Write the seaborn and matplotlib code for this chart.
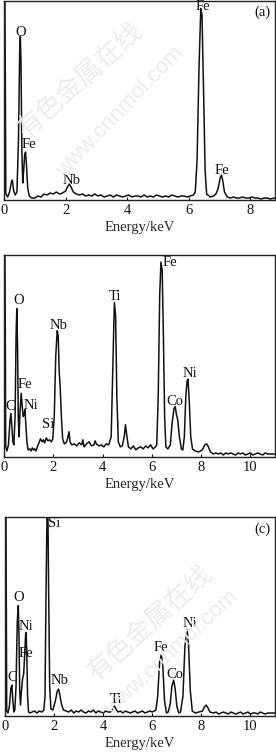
import matplotlib
matplotlib.use("Agg")
import matplotlib.pyplot as plt
import seaborn as sns
import pandas as pd

# ---------------- data ----------------
# Panel (a)
energy_a = [0.00, 0.03, 0.06, 0.12, 0.18, 0.24, 0.27, 0.31, 0.36, 0.42, 0.47, 0.51, 0.53, 0.55,
            0.58, 0.61, 0.64, 0.67, 0.70, 0.73, 0.77, 0.82, 0.90, 1.00, 1.10, 1.20, 1.30, 1.40,
            1.50, 1.60, 1.70, 1.80, 1.90, 2.00, 2.06, 2.12, 2.18, 2.25, 2.35, 2.45, 2.55, 2.65,
            2.75, 2.85, 2.95, 3.05, 3.15, 3.25, 3.35, 3.45, 3.55, 3.65, 3.75, 3.85, 3.95, 4.05,
            4.15, 4.25, 4.35, 4.45, 4.55, 4.65, 4.75, 4.85, 4.95, 5.05, 5.15, 5.25, 5.35, 5.45,
            5.55, 5.65, 5.75, 5.85, 5.95, 6.05, 6.15, 6.21, 6.27, 6.33, 6.39, 6.43, 6.48, 6.53,
            6.58, 6.70, 6.80, 6.88, 6.95, 7.02, 7.06, 7.10, 7.16, 7.25, 7.35, 7.45, 7.55, 7.65,
            7.75, 7.85, 7.95, 8.05, 8.15, 8.25, 8.35, 8.45, 8.55, 8.65, 8.80]
counts_a = [200, 200, 6, 3, 8, 18, 20, 10, 5, 8, 60, 150, 164, 140,
            50, 17, 30, 45, 48, 35, 12, 4, 2, 2, 4, 3, 6, 5,
            7, 6, 8, 6, 7, 9, 13, 16, 13, 8, 6, 5, 6, 4,
            5, 4, 6, 4, 5, 3, 4, 5, 3, 5, 4, 3, 4, 5,
            3, 4, 4, 3, 5, 3, 4, 3, 5, 4, 3, 4, 3, 5,
            4, 3, 4, 4, 3, 4, 5, 8, 40, 130, 192, 185, 110, 30,
            6, 3, 4, 6, 11, 22, 25, 20, 8, 3, 2, 3, 2, 2,
            3, 2, 2, 3, 2, 2, 1, 2, 2, 1, 2]

# Panel (b)
energy_b = [0.00, 0.04, 0.07, 0.12, 0.18, 0.24, 0.28, 0.32, 0.36, 0.40, 0.45, 0.49, 0.52, 0.55,
            0.58, 0.61, 0.65, 0.70, 0.74, 0.78, 0.82, 0.85, 0.88, 0.93, 0.98, 1.05, 1.10, 1.15,
            1.20, 1.25, 1.30, 1.35, 1.42, 1.48, 1.55, 1.60, 1.65, 1.72, 1.78, 1.85, 1.92, 1.98,
            2.04, 2.10, 2.16, 2.20, 2.24, 2.28, 2.33, 2.38, 2.45, 2.52, 2.58, 2.64, 2.68, 2.75,
            2.85, 2.95, 3.05, 3.15, 3.20, 3.25, 3.35, 3.45, 3.55, 3.65, 3.70, 3.75, 3.85, 3.95,
            4.05, 4.15, 4.25, 4.35, 4.42, 4.48, 4.53, 4.58, 4.64, 4.72, 4.80, 4.88, 4.93, 4.98,
            5.05, 5.15, 5.25, 5.35, 5.45, 5.55, 5.65, 5.75, 5.85, 5.95, 6.05, 6.15, 6.20, 6.26,
            6.32, 6.37, 6.42, 6.47, 6.52, 6.57, 6.65, 6.75, 6.83, 6.90, 6.95, 7.00, 7.05, 7.12,
            7.20, 7.26, 7.32, 7.38, 7.43, 7.47, 7.52, 7.58, 7.65, 7.75, 7.90, 8.05, 8.15, 8.22,
            8.28, 8.38, 8.50, 8.60, 8.70, 8.80, 8.90, 9.00, 9.10, 9.20, 9.30, 9.40, 9.50, 9.60,
            9.70, 9.80, 9.90, 10.00, 10.10, 10.20, 10.30, 10.40, 10.50, 10.60, 10.70, 10.80, 11.00]
counts_b = [200, 200, 10, 6, 12, 35, 43, 30, 15, 12, 40, 120, 147, 110,
            40, 20, 45, 63, 50, 40, 42, 47, 35, 15, 7, 8, 6, 9,
            7, 8, 6, 10, 14, 18, 15, 17, 14, 19, 16, 17, 15, 18,
            40, 100, 125, 120, 85, 70, 40, 18, 13, 14, 18, 25, 15, 12,
            13, 11, 14, 12, 17, 10, 13, 15, 11, 12, 16, 13, 11, 12,
            10, 13, 12, 20, 90, 153, 140, 60, 15, 10, 11, 20, 32, 22,
            10, 8, 11, 7, 9, 10, 8, 11, 9, 12, 8, 10, 12, 60,
            160, 193, 185, 120, 40, 10, 8, 12, 35, 48, 50, 42, 37, 20,
            8, 7, 20, 60, 75, 77, 55, 20, 8, 6, 5, 7, 12, 13,
            11, 5, 3, 4, 3, 4, 2, 4, 3, 4, 3, 2, 4, 3,
            4, 2, 3, 4, 2, 3, 4, 3, 2, 4, 3, 3, 3]

# Panel (c)
energy_c = [0.00, 0.04, 0.07, 0.12, 0.18, 0.24, 0.28, 0.32, 0.36, 0.40, 0.45, 0.50, 0.54, 0.57,
            0.60, 0.63, 0.67, 0.72, 0.76, 0.80, 0.84, 0.86, 0.89, 0.92, 0.96, 1.02, 1.10, 1.20,
            1.30, 1.40, 1.50, 1.58, 1.63, 1.67, 1.71, 1.75, 1.78, 1.82, 1.87, 1.95, 2.05, 2.13,
            2.18, 2.23, 2.30, 2.38, 2.50, 2.60, 2.70, 2.80, 2.90, 3.00, 3.10, 3.20, 3.30, 3.40,
            3.50, 3.60, 3.70, 3.80, 3.90, 4.00, 4.10, 4.20, 4.30, 4.40, 4.46, 4.52, 4.60, 4.70,
            4.80, 4.90, 5.00, 5.10, 5.20, 5.30, 5.40, 5.50, 5.60, 5.70, 5.80, 5.90, 6.00, 6.08,
            6.15, 6.22, 6.30, 6.37, 6.43, 6.50, 6.58, 6.65, 6.73, 6.80, 6.87, 6.93, 7.00, 7.08,
            7.15, 7.25, 7.33, 7.42, 7.48, 7.55, 7.63, 7.75, 7.90, 8.05, 8.12, 8.20, 8.27, 8.35,
            8.50, 8.60, 8.70, 8.80, 8.90, 9.00, 9.10, 9.20, 9.30, 9.40, 9.50, 9.60, 9.70, 9.80,
            9.90, 10.00, 10.10, 10.20, 10.30, 10.40, 10.50, 10.60, 10.70, 10.80, 11.00]
counts_c = [200, 200, 5, 3, 10, 28, 31, 15, 4, 6, 30, 95, 111, 80,
            25, 11, 25, 38, 42, 60, 82, 84, 60, 20, 4, 3, 4, 5,
            3, 5, 4, 6, 20, 120, 200, 200, 120, 30, 7, 6, 15, 25,
            27, 22, 12, 6, 5, 4, 6, 3, 5, 4, 6, 4, 3, 5,
            4, 6, 3, 5, 4, 3, 5, 4, 4, 7, 10, 7, 4, 5,
            3, 5, 4, 3, 4, 5, 3, 4, 5, 3, 4, 5, 4, 5,
            6, 20, 55, 62, 50, 15, 3, 4, 12, 30, 36, 28, 10, 3,
            4, 20, 70, 87, 70, 25, 5, 3, 4, 5, 9, 11, 8, 4,
            3, 4, 2, 3, 4, 3, 2, 4, 3, 2, 3, 4, 2, 3,
            4, 2, 3, 3, 2, 4, 3, 2, 3, 3, 3]

# Peak labels: (text, energy, count)
labels_a = [("O", 0.53, 168), ("Fe", 0.80, 56), ("Nb", 2.18, 20),
            ("Fe", 6.45, 194), ("Fe", 7.07, 30)]
labels_b = [("C", 0.24, 50), ("O", 0.58, 155), ("Fe", 0.85, 72), ("Ni", 1.10, 51),
            ("Si", 1.80, 32), ("Nb", 2.20, 130), ("Ti", 4.50, 159), ("Fe", 6.73, 193),
            ("Co", 6.94, 55), ("Ni", 7.55, 83)]
labels_c = [("C", 0.28, 39), ("O", 0.54, 119), ("Ni", 0.85, 90), ("Fe", 0.85, 63),
            ("Si", 2.00, 193), ("Nb", 2.24, 36), ("Ti", 4.50, 17), ("Fe", 6.37, 69),
            ("Co", 6.94, 42), ("Ni", 7.52, 93)]

panel_tags = ["(a)", "", "(c)"]
xmax = [8.8, 11.0, 11.0]
xticks = [[0, 2, 4, 6, 8], [0, 2, 4, 6, 8, 10], [0, 2, 4, 6, 8, 10]]
xlabel = "Energy/keV"

# ---------------- drawing ----------------
sns.set_theme(style="ticks")
plt.rcParams["font.family"] = ["Liberation Serif", "DejaVu Serif"]
plt.rcParams["axes.linewidth"] = 1.0

W, H = 276, 753
FS = 10.5
fig = plt.figure(figsize=(W / 100, H / 100), dpi=100)

# axes boxes in pixel coordinates (left, top, right, bottom)
boxes = [(4, 0.5, 275, 200), (4, 255, 275, 457), (5, 517, 275, 716)]
axes = []
for (l, t, r, b) in boxes:
    ax = fig.add_axes([l / W, (H - b) / H, (r - l) / W, (b - t) / H])
    axes.append(ax)

datasets = [(energy_a, counts_a, labels_a), (energy_b, counts_b, labels_b),
            (energy_c, counts_c, labels_c)]

# faint watermark (as in the reference)
wm_color = "#ececec"
wm = [
    ("有色金属在线", 80, 80, 42, 19),
    ("www.cnnmol.com", 120, 112, 46, 16),
    ("有色金属在线", 150, 623, 42, 19),
    ("www.cnnmol.com", 172, 653, 43, 16),
]
for (txt, px, py, rot, fs) in wm:
    fig.text(px / W, (H - py) / H, txt, rotation=rot, color=wm_color, fontsize=fs,
             ha="center", va="center", zorder=0,
             family=["Noto Sans CJK SC", "DejaVu Sans"] if "有" in txt else ["Liberation Sans"])

for i, ax in enumerate(axes):
    ex, cy, labs = datasets[i]
    df = pd.DataFrame({"Energy": ex, "Counts": cy})
    sns.lineplot(data=df, x="Energy", y="Counts", ax=ax, color="#111111",
                 linewidth=1.1, estimator=None, sort=False)
    ax.set_xlim(0, xmax[i])
    ax.set_ylim(0, 200)
    ax.set_yticks([])
    ax.set_xticks(xticks[i])
    ax.set_ylabel("")
    ax.set_xlabel(xlabel, fontsize=FS, labelpad=3)
    ax.tick_params(axis="x", direction="in", length=2.5, width=0.8, pad=3,
                   labelsize=FS, colors="#111111")
    ax.patch.set_alpha(0)
    for s in ax.spines.values():
        s.set_visible(True)
        s.set_color("#222222")
    for (txt, x, y) in labs:
        ax.text(x, y, txt, ha="center", va="center", fontsize=FS, color="#111111")
    if panel_tags[i]:
        ax.text(0.985, 0.94, panel_tags[i], transform=ax.transAxes, ha="right",
                va="center", fontsize=FS, color="#111111")

fig.savefig("out.png", dpi=100)
